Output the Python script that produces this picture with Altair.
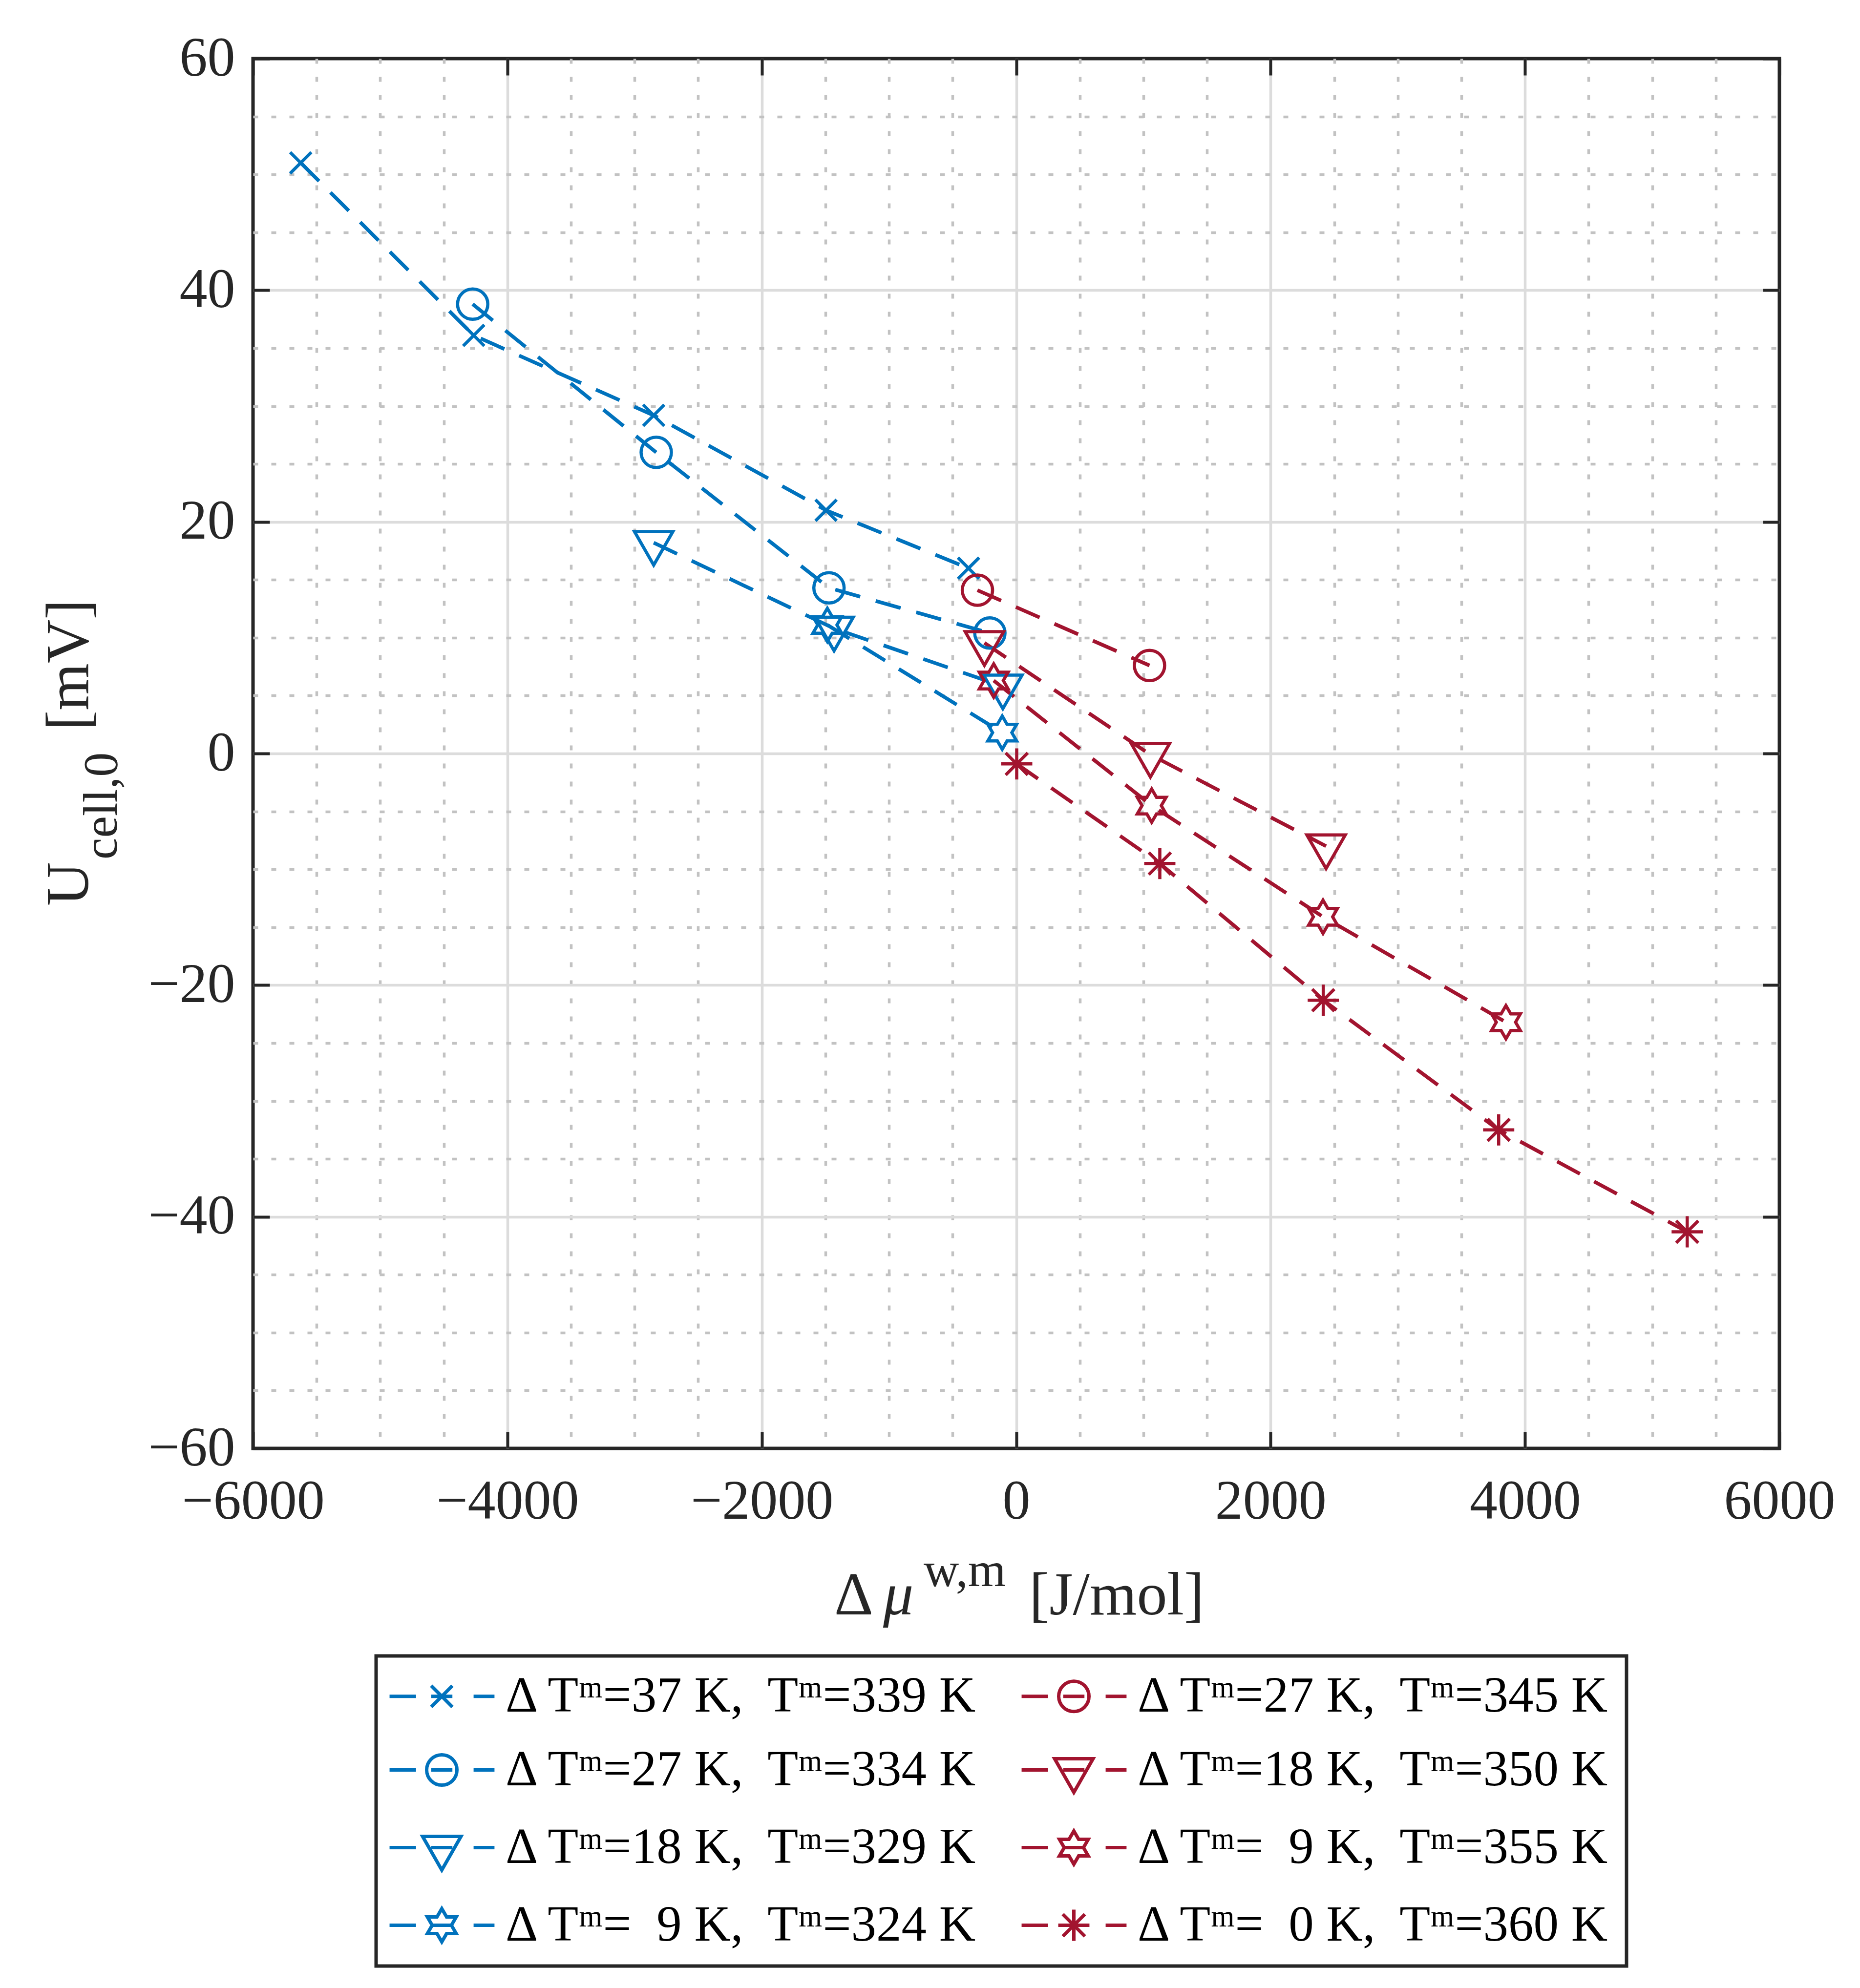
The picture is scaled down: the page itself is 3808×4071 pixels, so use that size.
import altair as alt
import pandas as pd

# ---- data ----
# blue series (Delta T = 37, 27, 18, 9 K)
dmu_b37 = [-5625, -4265, -2850, -1495, -375]
u_b37 = [51.0, 36.1, 29.2, 21.0, 16.0]
dmu_b27 = [-4273, -2830, -1472, -207]
u_b27 = [38.8, 26.0, 14.3, 10.4]
dmu_b18 = [-2850, -1432, -105]
u_b18 = [18.2, 10.8, 5.8]
dmu_b9 = [-1485, -110]
u_b9 = [11.1, 1.8]
# red series (Delta T = 27, 18, 9, 0 K)
dmu_r27 = [-305, 1048]
u_r27 = [14.1, 7.6]
dmu_r18 = [-250, 1055, 2436]
u_r18 = [9.55, -0.1, -8.0]
dmu_r9 = [-177, 1065, 2412, 3850]
u_r9 = [6.3, -4.5, -14.1, -23.2]
dmu_r0 = [4, 1129, 2414, 3793, 5275]
u_r0 = [-0.9, -9.5, -21.3, -32.5, -41.3]

# legend labels
lab_b37 = "Δ Tᵐ=37 K,\u00a0 Tᵐ=339 K"
lab_b27 = "Δ Tᵐ=27 K,\u00a0 Tᵐ=334 K"
lab_b18 = "Δ Tᵐ=18 K,\u00a0 Tᵐ=329 K"
lab_b9 = "Δ Tᵐ=\u20079 K,\u00a0 Tᵐ=324 K"
lab_r27 = "Δ Tᵐ=27 K,\u00a0 Tᵐ=345 K"
lab_r18 = "Δ Tᵐ=18 K,\u00a0 Tᵐ=350 K"
lab_r9 = "Δ Tᵐ=\u20079 K,\u00a0 Tᵐ=355 K"
lab_r0 = "Δ Tᵐ=\u20070 K,\u00a0 Tᵐ=360 K"

x_major = [-6000, -4000, -2000, 0, 2000, 4000, 6000]
x_minor = list(range(-6000, 6001, 500))
y_major = [-60, -40, -20, 0, 20, 40, 60]
y_minor = list(range(-60, 61, 5))

x_title_parts = ["Δ", "μ", "w,m", "[J/mol]"]
y_title_parts = ["U", "cell,0", "[mV]"]

BLUE = "#0072BD"
RED = "#A2142F"
FONT = "Liberation Serif"
INK = "#262626"

# marker paths (unit = sqrt(size)/2)
X_P = "M-0.7,-0.7L0.7,0.7M-0.7,0.7L0.7,-0.7"
O_P = "M-1,0A1,1,0,1,1,1,0A1,1,0,1,1,-1,0Z"
V_P = "M-1.27,-0.74L1.27,-0.74L0,1.48Z"
H_P = ("M0,-1.1L0.318,-0.55L0.953,-0.55L0.635,0L0.953,0.55L0.318,0.55L0,1.1"
       "L-0.318,0.55L-0.953,0.55L-0.635,0L-0.953,-0.55L-0.318,-0.55Z")
A_P = "M0,-1.03L0,1.03M-1.03,0L1.03,0M-0.73,-0.73L0.73,0.73M-0.73,0.73L0.73,-0.73"
STUB = "M-3.45,0L-1.7,0M-0.7,0L0.7,0M2.1,0L3.48,0"

# legend fills column by column: blue column first, then red
series = [
    (lab_b37, dmu_b37, u_b37, BLUE, X_P),
    (lab_b27, dmu_b27, u_b27, BLUE, O_P),
    (lab_b18, dmu_b18, u_b18, BLUE, V_P),
    (lab_b9, dmu_b9, u_b9, BLUE, H_P),
    (lab_r27, dmu_r27, u_r27, RED, O_P),
    (lab_r18, dmu_r18, u_r18, RED, V_P),
    (lab_r9, dmu_r9, u_r9, RED, H_P),
    (lab_r0, dmu_r0, u_r0, RED, A_P),
]

rows = []
for lab, xs, ys, _, _ in series:
    for xv, yv in zip(xs, ys):
        rows.append({"series": lab, "dmu": xv, "u": yv})
df = pd.DataFrame(rows)

names = [s[0] for s in series]
colors = [s[3] for s in series]
shapes = [s[4] for s in series]
legend_shapes = [s[4] + STUB for s in series]

W, H = 3125, 2846
TICK = 34

xmaj = "datum.value % 2000 === 0"
ymaj = "datum.value % 20 === 0"


def main_axis(orient, values, major, edge, pad):
    return alt.Axis(
        orient=orient, values=values, title=None, domain=False,
        format="d", labelExpr=f"{major} ? datum.label : ''",
        labelFont=FONT, labelFontSize=114, labelColor=INK, labelLimit=1000,
        labelPadding=pad, labelOverlap=False, labelFlush=False,
        offset=-TICK, tickSize=TICK, tickWidth=6, tickColor=INK,
        tickOpacity={"condition": {"test": major, "value": 1}, "value": 0},
        grid=True, gridWidth=5.5,
        gridColor={"condition": {"test": major, "value": "#dcdcdc"}, "value": "#c2c2c2"},
        gridDash={"condition": {"test": major, "value": []}, "value": [10, 27]},
        gridOpacity={"condition": {"test": edge, "value": 0}, "value": 1},
    )


def tick_axis(orient, values):
    return alt.Axis(
        orient=orient, values=values, title=None, domain=False, labels=False,
        grid=False, offset=-TICK, tickSize=TICK, tickWidth=6, tickColor=INK,
    )


xs = alt.Scale(domain=[-6000, 6000], nice=False, zero=False)
ys = alt.Scale(domain=[-60, 60], nice=False, zero=False)
cscale = alt.Scale(domain=names, range=colors)

lines = alt.Chart(df).mark_line(strokeWidth=7.5, strokeDash=[53, 33], strokeCap="butt").encode(
    x=alt.X("dmu:Q", scale=xs, axis=main_axis("bottom", x_minor, xmaj, "abs(datum.value) >= 6000", 53)),
    y=alt.Y("u:Q", scale=ys, axis=main_axis("left", y_minor, ymaj, "abs(datum.value) >= 60", 37)),
    color=alt.Color("series:N", scale=cscale, legend=None),
    detail="series:N",
)

points = alt.Chart(df).mark_point(filled=False, size=3844, strokeWidth=6.5, opacity=1).encode(
    x=alt.X("dmu:Q", scale=xs, axis=tick_axis("top", x_major)),
    y=alt.Y("u:Q", scale=ys, axis=tick_axis("right", y_major)),
    color=alt.Color("series:N", scale=cscale, legend=None),
    shape=alt.Shape("series:N", scale=alt.Scale(domain=names, range=shapes), legend=None),
)

leg = alt.Legend(
    orient="none", legendX=252, legendY=3271, columns=2, title=None,
    labelFont=FONT, labelFontSize=103, labelColor="black", labelLimit=3000,
    labelOffset=79, symbolOffset=52, symbolSize=3844, symbolStrokeWidth=7,
    rowPadding=47, columnPadding=72, padding=31, strokeColor=INK,
)

legend_layer = alt.Chart(df).transform_filter("false").mark_point(
    filled=False, size=3844, strokeWidth=7, opacity=1
).encode(
    color=alt.Color("series:N", scale=alt.Scale(domain=names, range=colors), legend=leg),
    shape=alt.Shape("series:N", scale=alt.Scale(domain=names, range=legend_shapes), legend=leg),
)


def title_part(text, x, y, size, angle=0, italic=False):
    return alt.Chart(pd.DataFrame({"t": [text]})).mark_text(
        align="left", baseline="alphabetic", font=FONT, fontSize=size, angle=angle,
        fontStyle="italic" if italic else "normal", color=INK,
    ).encode(x=alt.value(x), y=alt.value(y), text="t:N")


titles = [
    title_part(x_title_parts[0], 1190, 3186, 124),
    title_part(x_title_parts[1], 1290, 3186, 124, italic=True),
    title_part(x_title_parts[2], 1373, 3128, 100),
    title_part(x_title_parts[3], 1589, 3186, 124),
    title_part(y_title_parts[0], -338, 1735, 124, angle=270),
    title_part(y_title_parts[1], -279, 1640, 100, angle=270),
    title_part(y_title_parts[2], -338, 1376, 124, angle=270),
]

chart = alt.layer(lines, points, legend_layer, *titles).resolve_scale(
    color="independent", shape="independent"
).resolve_axis(
    x="independent", y="independent"
).properties(
    width=W, height=H,
    autosize=alt.AutoSizeParams(type="none"),
    padding={"left": 510, "top": 112, "right": 157, "bottom": 1097},
).configure_view(
    stroke=INK, strokeWidth=7
).configure_legend(
    strokeWidth=7
)

chart.save("out.html", embed_options={"renderer": "svg", "actions": False})
